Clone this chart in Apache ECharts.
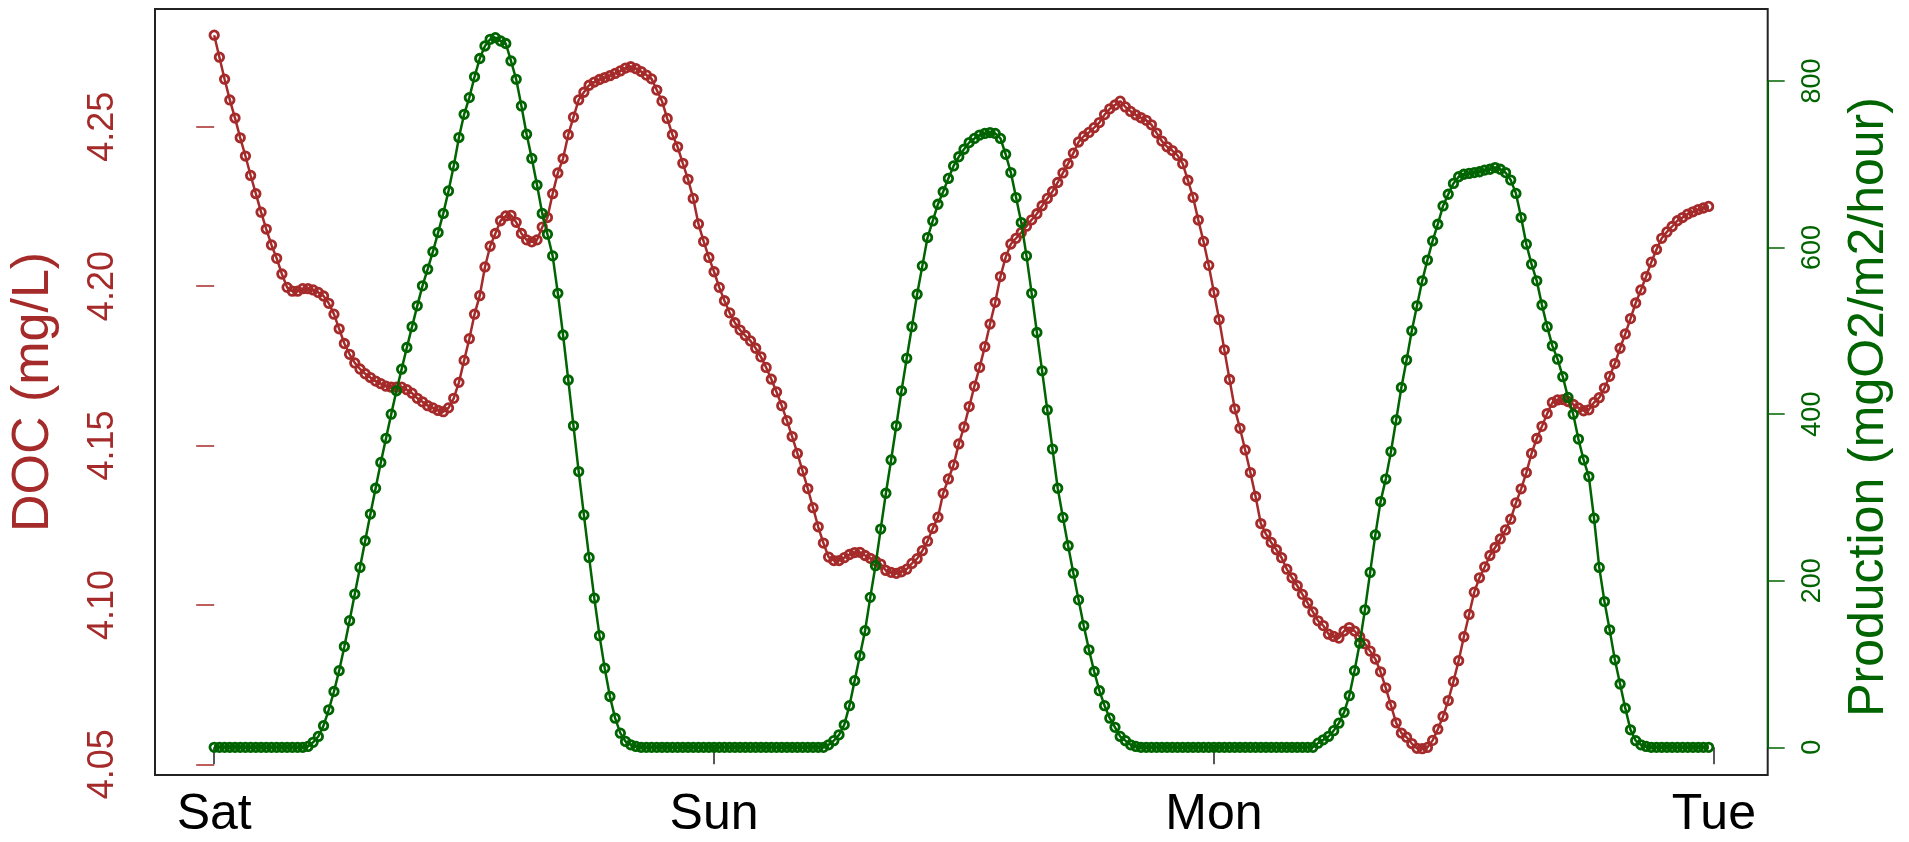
<!DOCTYPE html>
<html><head><meta charset="utf-8">
<script src="https://cdn.jsdelivr.net/npm/echarts@6/dist/echarts.min.js"></script>
<style>html,body{margin:0;padding:0;background:#fff;} #chart{width:1909px;height:842px;}</style>
</head><body><div id="chart"></div>
<script>
const dayLabels = ['Sat', 'Sun', 'Mon', 'Tue'];
const dayTickHours = [0, 24, 48, 72];
const docTicks = [4.05, 4.10, 4.15, 4.20, 4.25];
const prodTicks = [0, 200, 400, 600, 800];
const stepHours = 0.25; // one reading every 15 minutes, starting Sat 00:00

const doc = [
  4.2787, 4.2718, 4.2649, 4.2584, 4.2527, 4.2465, 4.2408, 4.2347, 4.2290, 4.2232,
  4.2179, 4.2129, 4.2087, 4.2038, 4.1996, 4.1984, 4.1984, 4.1992, 4.1992, 4.1988,
  4.1980, 4.1969, 4.1946, 4.1912, 4.1866, 4.1820, 4.1786, 4.1759, 4.1740, 4.1725,
  4.1713, 4.1702, 4.1694, 4.1686, 4.1683, 4.1683, 4.1683, 4.1675, 4.1664, 4.1648,
  4.1637, 4.1625, 4.1618, 4.1610, 4.1606, 4.1618, 4.1648, 4.1698, 4.1767, 4.1835,
  4.1912, 4.1970, 4.2060, 4.2125, 4.2165, 4.2205, 4.2220, 4.2222, 4.2200, 4.2165,
  4.2145, 4.2139, 4.2145, 4.2185, 4.2215, 4.2290, 4.2355, 4.2400, 4.2475, 4.2530,
  4.2584, 4.2608, 4.2630, 4.2640, 4.2648, 4.2654, 4.2660, 4.2667, 4.2675, 4.2684,
  4.2688, 4.2682, 4.2673, 4.2662, 4.2650, 4.2615, 4.2580, 4.2526, 4.2475, 4.2437,
  4.2385, 4.2335, 4.2275, 4.2195, 4.2140, 4.2090, 4.2045, 4.1996, 4.1954, 4.1916,
  4.1885, 4.1862, 4.1845, 4.1828, 4.1805, 4.1778, 4.1745, 4.1708, 4.1668, 4.1625,
  4.1578, 4.1528, 4.1475, 4.1420, 4.1365, 4.1305, 4.1245, 4.1194, 4.1150, 4.1139,
  4.1139, 4.1148, 4.1158, 4.1164, 4.1165, 4.1155, 4.1146, 4.1138, 4.1128, 4.1108,
  4.1102, 4.1099, 4.1104, 4.1112, 4.1130, 4.1145, 4.1170, 4.1200, 4.1240, 4.1275,
  4.1350, 4.1395, 4.1439, 4.1505, 4.1558, 4.1622, 4.1686, 4.1745, 4.1810, 4.1881,
  4.1949, 4.2030, 4.2090, 4.2132, 4.2150, 4.2168, 4.2188, 4.2208, 4.2227, 4.2252,
  4.2275, 4.2297, 4.2325, 4.2355, 4.2384, 4.2417, 4.2452, 4.2470, 4.2482, 4.2497,
  4.2513, 4.2538, 4.2556, 4.2568, 4.2580, 4.2562, 4.2548, 4.2537, 4.2528, 4.2520,
  4.2506, 4.2480, 4.2455, 4.2437, 4.2425, 4.2410, 4.2384, 4.2332, 4.2278, 4.2207,
  4.2140, 4.2065, 4.1980, 4.1895, 4.1800, 4.1707, 4.1615, 4.1554, 4.1486, 4.1415,
  4.1340, 4.1255, 4.1222, 4.1196, 4.1173, 4.1148, 4.1112, 4.1085, 4.1060, 4.1033,
  4.1006, 4.0978, 4.0950, 4.0935, 4.0908, 4.0901, 4.0896, 4.0918, 4.0929, 4.0918,
  4.0900, 4.0878, 4.0855, 4.0830, 4.0790, 4.0740, 4.0685, 4.0630, 4.0598, 4.0585,
  4.0565, 4.0550, 4.0549, 4.0553, 4.0575, 4.0610, 4.0650, 4.0700, 4.0760, 4.0825,
  4.0900, 4.0970, 4.1040, 4.1085, 4.1119, 4.1155, 4.1180, 4.1207, 4.1235, 4.1269,
  4.1320, 4.1364, 4.1415, 4.1475, 4.1522, 4.1560, 4.1600, 4.1635, 4.1643, 4.1644,
  4.1638, 4.1629, 4.1618, 4.1609, 4.1612, 4.1635, 4.1650, 4.1680, 4.1717, 4.1757,
  4.1805, 4.1850, 4.1898, 4.1947, 4.1988, 4.2030, 4.2075, 4.2115, 4.2150, 4.2170,
  4.2187, 4.2205, 4.2215, 4.2226, 4.2233, 4.2240, 4.2245, 4.2250
];

const production = [
  0, 0, 0, 0, 0, 0, 0, 0, 0, 0,
  0, 0, 0, 0, 0, 0, 0, 0, 1, 6,
  13, 26, 45, 67, 92, 121, 152, 184, 216, 248,
  280, 311, 342, 371, 400, 428, 454, 480, 505, 530,
  554, 574, 595, 618, 641, 668, 698, 732, 760, 780,
  805, 827, 842, 850, 852, 848, 845, 824, 802, 770,
  736, 707, 675, 641, 616, 590, 545, 495, 441, 386,
  331, 279, 228, 179, 134, 95, 61, 35, 17, 7,
  3, 1, 0, 0, 0, 0, 0, 0, 0, 0,
  0, 0, 0, 0, 0, 0, 0, 0, 0, 0,
  0, 0, 0, 0, 0, 0, 0, 0, 0, 0,
  0, 0, 0, 0, 0, 0, 0, 0, 3, 8,
  15, 27, 50, 80, 110, 140, 180, 218, 262, 305,
  345, 386, 428, 467, 505, 544, 578, 612, 632, 652,
  667, 683, 698, 709, 718, 726, 731, 735, 737, 738,
  737, 731, 712, 690, 660, 630, 590, 545, 498, 452,
  405, 358, 311, 276, 242, 209, 177, 146, 117, 91,
  68, 50, 35, 24, 13, 8, 3, 1, 0, 0,
  0, 0, 0, 0, 0, 0, 0, 0, 0, 0,
  0, 0, 0, 0, 0, 0, 0, 0, 0, 0,
  0, 0, 0, 0, 0, 0, 0, 0, 0, 0,
  0, 0, 5, 9, 13, 20, 29, 42, 62, 92,
  125, 165, 210, 255, 295, 322, 355, 393, 432, 465,
  500, 530, 560, 585, 608, 628, 650, 664, 677, 685,
  688, 689, 690, 691, 693, 694, 696, 694, 690, 681,
  665, 636, 604, 580, 560, 531, 505, 482, 466, 445,
  420, 400, 370, 345, 325, 275, 216, 175, 141, 105,
  76, 47, 21, 8, 3, 1, 0, 0, 0, 0,
  0, 0, 0, 0, 0, 0, 0, 0
];

const BROWN = '#A52A2A';
const GREEN = '#006400';
const FONT = '"Liberation Sans", Arial, Helvetica, sans-serif';
const X_MIN = -2.842, X_MAX = 74.588;
const toPairs = arr => arr.map((v, i) => [i * stepHours, v]);

const chart = echarts.init(document.getElementById('chart'), null, {renderer: 'canvas'});
chart.setOption({
  animation: false,
  backgroundColor: '#ffffff',
  grid: {left: 152, right: 141.3, top: 9, bottom: 67, show: true,
         borderColor: '#222', borderWidth: 2, backgroundColor: 'transparent'},
  xAxis: {
    type: 'value', min: X_MIN, max: X_MAX,
    axisLine: {show: false}, splitLine: {show: false},
    axisTick: {show: true, customValues: dayTickHours, length: 17, lineStyle: {color: '#222', width: 1.5}},
    axisLabel: {customValues: dayTickHours, hideOverlap: false,
      formatter: v => dayLabels[dayTickHours.indexOf(Math.round(v))],
      fontSize: 50, color: '#000', fontFamily: FONT, margin: 15}
  },
  yAxis: [{
    type: 'value', position: 'left', min: 4.04664, max: 4.28692,
    name: 'DOC (mg/L)', nameLocation: 'middle', nameRotate: 90, nameGap: 95,
    nameTextStyle: {fontSize: 52, color: BROWN, fontFamily: FONT},
    axisLine: {show: false}, splitLine: {show: false},
    axisTick: {show: true, customValues: docTicks, length: 18, lineStyle: {color: BROWN, width: 1.5}},
    axisLabel: {customValues: docTicks, hideOverlap: false, rotate: 90, formatter: v => v.toFixed(2),
      fontSize: 36, color: BROWN, fontFamily: FONT, margin: 34}
  }, {
    type: 'value', position: 'right', min: -33.26, max: 886.4,
    name: 'Production (mgO2/m2/hour)', nameLocation: 'middle', nameRotate: 90, nameGap: 77,
    nameTextStyle: {fontSize: 50, color: GREEN, fontFamily: FONT, padding: [0, 30, 0, 0]},
    axisLine: {show: false}, splitLine: {show: false},
    axisTick: {show: true, customValues: prodTicks, length: 17, lineStyle: {color: GREEN, width: 1.5}},
    axisLabel: {customValues: prodTicks, hideOverlap: false, rotate: 90, formatter: v => String(Math.round(v)),
      fontSize: 27, color: GREEN, fontFamily: FONT, margin: 31}
  }],
  series: [{
    type: 'line', name: 'DOC', yAxisIndex: 0, data: toPairs(doc), z: 2,
    symbol: 'circle', symbolSize: 8.5, showSymbol: true,
    lineStyle: {color: BROWN, width: 2.5},
    itemStyle: {color: 'rgba(255,255,255,0)', borderColor: BROWN, borderWidth: 2.8},
    emphasis: {disabled: true}
  }, {
    type: 'line', name: 'Production', yAxisIndex: 1, data: toPairs(production), z: 3,
    symbol: 'circle', symbolSize: 8.5, showSymbol: true,
    lineStyle: {color: GREEN, width: 2.5},
    itemStyle: {color: 'rgba(255,255,255,0)', borderColor: GREEN, borderWidth: 2.8},
    emphasis: {disabled: true},
    markLine: {silent: true, symbol: ['none', 'none'], label: {show: false}, animation: false,
      lineStyle: {color: GREEN, width: 2, type: 'solid'},
      data: [[{coord: [X_MAX, prodTicks[0]]}, {coord: [X_MAX, prodTicks[prodTicks.length - 1]]}]]}
  }]
});
</script>
</body></html>
